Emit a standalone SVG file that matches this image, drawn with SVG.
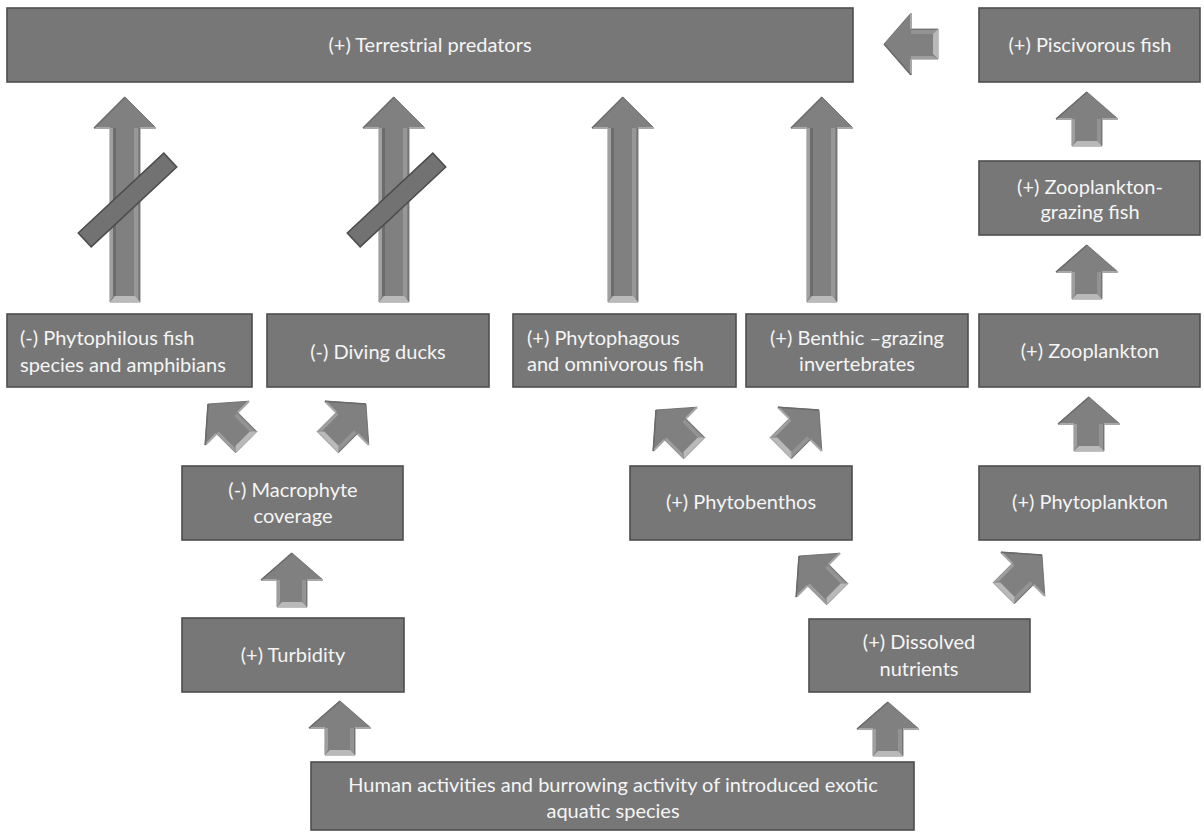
<svg xmlns="http://www.w3.org/2000/svg" xmlns:xlink="http://www.w3.org/1999/xlink" width="1204" height="833" viewBox="0 0 1204 833">
<style>
.box{fill:#777777;stroke:#4e4e4e;stroke-width:1.6}
.t{font-family:Lato,"Open Sans","Liberation Sans",sans-serif;font-size:20px;fill:#f5f5f5}
.c{text-anchor:middle}
.slash{fill:#727272;stroke:#4c4c4c;stroke-width:1.5}
</style>
<defs>
<g id="sa">
<path d="M0,-27 L31,0 L15,0 L15,27 L-15,27 L-15,0 L-31,0 Z" fill="#808080" stroke="#666666" stroke-width="0.8"/>
<path d="M-15,0 L-12,0 L-12,22 L-15,27 Z" fill="#9e9e9e"/>
<path d="M10,0 L14,0 L14,26 L10,22 Z" fill="#939393"/>
<path d="M-15,27 L15,27 L10,22 L-10,22 Z" fill="#b9b9b9"/>
<path d="M-31,0 L-15,0 M15,0 L31,0" stroke="#a8a8a8" stroke-width="2" fill="none"/>
<path d="M0,-27 L-31,0" stroke="#6a6a6a" stroke-width="1.5" fill="none"/>
</g>
<g id="la">
<path d="M0,97 L31,128 L15,128 L15,302 L-15,302 L-15,128 L-31,128 Z" fill="#808080" stroke="#666666" stroke-width="0.8"/>
<path d="M-15,128 L-12,128 L-12,296 L-15,302 Z" fill="#a0a0a0"/>
<path d="M-12,128 L-9,128 L-9,296 L-12,296 Z" fill="#6c6c6c"/>
<path d="M9,128 L13,128 L13,300 L9,296 Z" fill="#979797"/>
<path d="M-15,302 L15,302 L10,296 L-10,296 Z" fill="#bababa"/>
<path d="M-31,128 L-15,128 M15,128 L31,128" stroke="#a8a8a8" stroke-width="2" fill="none"/>
<path d="M0,97 L-31,128" stroke="#6a6a6a" stroke-width="1.5" fill="none"/>
</g>
</defs>
<rect width="1204" height="833" fill="#ffffff"/>

<g id="connectors">
<use xlink:href="#la" transform="translate(125,0)"/>
<use xlink:href="#la" transform="translate(394,0)"/>
<use xlink:href="#la" transform="translate(623,0)"/>
<use xlink:href="#la" transform="translate(822,0)"/>
<rect class="slash" x="-58.5" y="-9.5" width="117" height="19" transform="translate(127.5,200) rotate(-43)"/>
<rect class="slash" x="-58.5" y="-9.5" width="117" height="19" transform="translate(396.5,200) rotate(-43)"/>
<use xlink:href="#sa" transform="translate(911,44) rotate(-90)"/>
<use xlink:href="#sa" transform="translate(1087,119)"/>
<use xlink:href="#sa" transform="translate(1087,272)"/>
<use xlink:href="#sa" transform="translate(1089,424)"/>
<use xlink:href="#sa" transform="translate(292,580)"/>
<use xlink:href="#sa" transform="translate(340,728)"/>
<use xlink:href="#sa" transform="translate(888,729)"/>
<use xlink:href="#sa" transform="translate(227.1,423.1) rotate(-45)"/>
<use xlink:href="#sa" transform="translate(346.9,423.1) rotate(45)"/>
<use xlink:href="#sa" transform="translate(675.1,429.1) rotate(-45)"/>
<use xlink:href="#sa" transform="translate(799.9,429.1) rotate(45)"/>
<use xlink:href="#sa" transform="translate(818.1,575.1) rotate(-45)"/>
<use xlink:href="#sa" transform="translate(1022.9,574.1) rotate(45)"/>
</g>

<g id="terrestrial">
<rect class="box" x="7" y="8" width="846" height="74"/>
<text class="t c" x="430" y="52">(+) Terrestrial predators</text>
</g>
<g id="piscivorous">
<rect class="box" x="979" y="8" width="221" height="74"/>
<text class="t c" x="1090" y="52">(+) Piscivorous fish</text>
</g>
<g id="zooplanktongrazing">
<rect class="box" x="979" y="161" width="221" height="74"/>
<text class="t c" x="1090" y="194">(+) Zooplankton-</text>
<text class="t c" x="1090" y="219">grazing fish</text>
</g>
<g id="phytophilous">
<rect class="box" x="7" y="314" width="245" height="73"/>
<text class="t" x="20" y="345">(-) Phytophilous fish</text>
<text class="t" x="20" y="372">species and amphibians</text>
</g>
<g id="divingducks">
<rect class="box" x="267" y="314" width="222" height="73"/>
<text class="t c" x="378" y="359">(-) Diving ducks</text>
</g>
<g id="phytophagous">
<rect class="box" x="513" y="314" width="223" height="73"/>
<text class="t" x="527" y="345">(+) Phytophagous</text>
<text class="t" x="527" y="371">and omnivorous fish</text>
</g>
<g id="benthic">
<rect class="box" x="746" y="314" width="222" height="73"/>
<text class="t c" x="857" y="345">(+) Benthic –grazing</text>
<text class="t c" x="857" y="371">invertebrates</text>
</g>
<g id="zooplankton">
<rect class="box" x="979" y="314" width="221" height="73"/>
<text class="t c" x="1090" y="358">(+) Zooplankton</text>
</g>
<g id="macrophyte">
<rect class="box" x="182" y="466" width="221" height="74"/>
<text class="t c" x="293" y="497">(-) Macrophyte</text>
<text class="t c" x="293" y="523">coverage</text>
</g>
<g id="phytobenthos">
<rect class="box" x="630" y="466" width="222" height="74"/>
<text class="t c" x="741" y="509">(+) Phytobenthos</text>
</g>
<g id="phytoplankton">
<rect class="box" x="979" y="466" width="221" height="74"/>
<text class="t c" x="1090" y="509">(+) Phytoplankton</text>
</g>
<g id="turbidity">
<rect class="box" x="182" y="618" width="222" height="74"/>
<text class="t c" x="293" y="662">(+) Turbidity</text>
</g>
<g id="dissolved">
<rect class="box" x="809" y="619" width="221" height="73"/>
<text class="t c" x="919" y="649">(+) Dissolved</text>
<text class="t c" x="919" y="676">nutrients</text>
</g>
<g id="human">
<rect class="box" x="311" y="762" width="603" height="68"/>
<text class="t c" x="613" y="792">Human activities and burrowing activity of introduced exotic</text>
<text class="t c" x="613" y="818">aquatic species</text>
</g>
</svg>
